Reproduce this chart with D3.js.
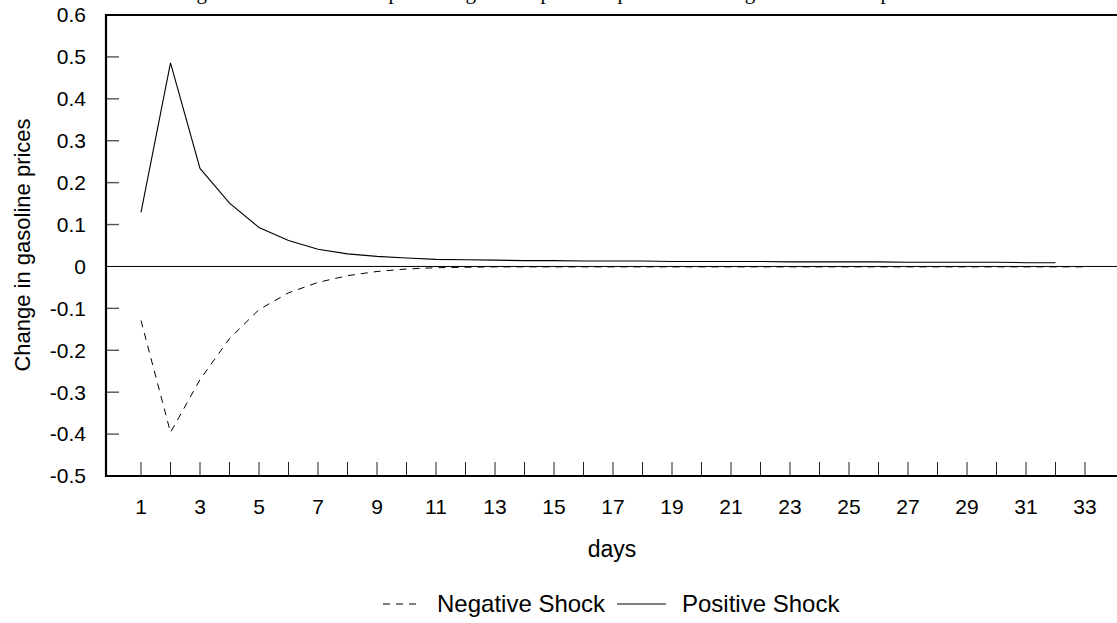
<!DOCTYPE html>
<meta charset="utf-8">
<script src="https://d3js.org/d3.v7.min.js"></script>
<style>
  body { margin: 0; background: #fff; }
  text { font-family: "Liberation Sans", Arial, sans-serif; fill: #000; }
</style>
<div id="my_dataviz"></div>
<script>

// data
var days = d3.range(1, 34);
var positiveShock = [0.129, 0.486, 0.234, 0.151, 0.093, 0.062, 0.041, 0.030, 0.024, 0.020,
                     0.017, 0.016, 0.015, 0.014, 0.014, 0.013, 0.013, 0.013, 0.012, 0.012,
                     0.012, 0.012, 0.011, 0.011, 0.011, 0.011, 0.010, 0.010, 0.010, 0.010,
                     0.009, 0.009];
var negativeShock = [-0.129, -0.396, -0.270, -0.172, -0.103, -0.063, -0.038, -0.022, -0.012, -0.006,
                     -0.003, -0.002, -0.001, -0.001, -0.001, -0.001, -0.001, -0.001, -0.001, -0.001,
                     -0.001, -0.001, -0.001, -0.001, -0.001, -0.001, -0.001, -0.001, -0.001, -0.001,
                     -0.001, -0.001, -0.001];
var yTicks = [0.6, 0.5, 0.4, 0.3, 0.2, 0.1, 0, -0.1, -0.2, -0.3, -0.4, -0.5];
var xLabels = d3.range(1, 34, 2);

var width = 1117, height = 623;
var plotLeft = 106, plotTop = 15, plotBottom = 476;

var svg = d3.select("#my_dataviz")
  .append("svg")
    .attr("width", width)
    .attr("height", height);

// title, cut off at the top edge (only descenders show)
svg.append("text")
  .attr("x", 582)
  .attr("y", -0.8)
  .attr("text-anchor", "middle")
  .style("font-family", "Liberation Serif")
  .style("font-size", "21px")
  .text("Figure 2: Cumulative response of gasoline prices to positive and negative crude oil price shocks");

var x = d3.scaleLinear().domain([1, 33]).range([141, 1085]);
var y = d3.scaleLinear().domain([-0.5, 0.6]).range([plotBottom, plotTop]);

// y ticks (inside) and labels
svg.append("g")
  .selectAll("line")
  .data(yTicks.filter(function(d) { return d !== 0.6 && d !== -0.5 && d !== 0; }))
  .enter().append("line")
    .attr("x1", plotLeft).attr("x2", plotLeft + 13)
    .attr("y1", function(d) { return y(d); })
    .attr("y2", function(d) { return y(d); })
    .attr("stroke", "#555")
    .attr("stroke-width", 1.4);

svg.append("g")
  .selectAll("text")
  .data(yTicks)
  .enter().append("text")
    .attr("x", 86)
    .attr("y", function(d) { return y(d); })
    .attr("dy", ".35em")
    .attr("text-anchor", "end")
    .style("font-size", "21px")
    .text(function(d) { return String(d); });

// x ticks (upward) and labels
svg.append("g")
  .selectAll("line")
  .data(days)
  .enter().append("line")
    .attr("x1", function(d) { return x(d); })
    .attr("x2", function(d) { return x(d); })
    .attr("y1", plotBottom).attr("y2", plotBottom - 14)
    .attr("stroke", "#222")
    .attr("stroke-width", 1);

svg.append("g")
  .selectAll("text")
  .data(xLabels)
  .enter().append("text")
    .attr("x", function(d) { return x(d); })
    .attr("y", 507)
    .attr("dy", ".35em")
    .attr("text-anchor", "middle")
    .style("font-size", "21px")
    .text(function(d) { return d; });

// zero line
svg.append("line")
  .attr("x1", plotLeft).attr("x2", width)
  .attr("y1", y(0)).attr("y2", y(0))
  .attr("stroke", "#000")
  .attr("stroke-width", 1);

// frame: left, top, bottom
svg.append("path")
  .attr("d", "M" + width + "," + plotTop + "H" + plotLeft + "V" + plotBottom + "H" + width)
  .attr("fill", "none")
  .attr("stroke", "#000")
  .attr("stroke-width", 2.2);

// series
var line = d3.line()
  .x(function(d, i) { return x(days[i]); })
  .y(function(d) { return y(d); });

svg.append("path")
  .datum(negativeShock)
  .attr("d", line)
  .attr("fill", "none")
  .attr("stroke", "#000")
  .attr("stroke-width", 1)
  .attr("stroke-dasharray", "7,6");

svg.append("path")
  .datum(positiveShock)
  .attr("d", line)
  .attr("fill", "none")
  .attr("stroke", "#000")
  .attr("stroke-width", 1.1);

// axis titles
svg.append("text")
  .attr("x", 612)
  .attr("y", 549)
  .attr("dy", ".35em")
  .attr("text-anchor", "middle")
  .style("font-size", "23px")
  .text("days");

svg.append("text")
  .attr("transform", "translate(22,245) rotate(-90)")
  .attr("dy", ".35em")
  .attr("text-anchor", "middle")
  .style("font-size", "22px")
  .text("Change in gasoline prices");

// legend
var legendY = 604;
svg.append("line")
  .attr("x1", 383).attr("x2", 419)
  .attr("y1", legendY).attr("y2", legendY)
  .attr("stroke", "#000")
  .attr("stroke-dasharray", "7,6");
svg.append("text")
  .attr("x", 437).attr("y", legendY)
  .attr("dy", ".35em")
  .style("font-size", "24px")
  .text("Negative Shock");
svg.append("line")
  .attr("x1", 617).attr("x2", 666)
  .attr("y1", legendY).attr("y2", legendY)
  .attr("stroke", "#000");
svg.append("text")
  .attr("x", 682).attr("y", legendY)
  .attr("dy", ".35em")
  .style("font-size", "24px")
  .text("Positive Shock");

</script>
